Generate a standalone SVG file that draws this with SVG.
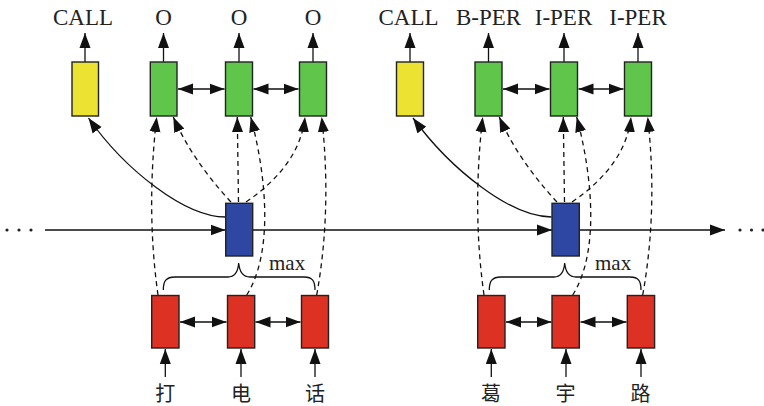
<svg xmlns="http://www.w3.org/2000/svg" width="764" height="406" viewBox="0 0 764 406">
<defs>
<marker id="ah" markerUnits="userSpaceOnUse" markerWidth="16" markerHeight="12" refX="15" refY="6" orient="auto-start-reverse"><path d="M0,0.5 L15,6 L0,11.5 z" fill="#111"/></marker>
<style>
.box{stroke:#222;stroke-width:1.4}
.y{fill:#ECE232}.g{fill:#5FC54B}.b{fill:#2E47A2}.r{fill:#DD3124}
.ln{fill:none;stroke:#111;stroke-width:1.3}
.ar{marker-end:url(#ah)}
.bi{marker-start:url(#ah);marker-end:url(#ah)}
.ds{stroke-dasharray:5,4}
.lab{font-family:"Liberation Serif","Times New Roman",serif;font-size:23px;fill:#222;text-anchor:middle}
.mx{font-family:"Liberation Serif","Times New Roman",serif;font-size:21px;fill:#222}
.ch{font-family:"Noto Sans CJK SC",sans-serif;font-size:20px;fill:#222;text-anchor:middle}
</style>
</defs>
<g id="connectors">
<path class="ln ar" d="M85 62 L85 33"/>
<path class="ln ar" d="M163.5 62 L163.5 33"/>
<path class="ln ar" d="M239 62 L239 33"/>
<path class="ln ar" d="M313 62 L313 33"/>
<path class="ln bi" d="M178 89 L224.5 89"/>
<path class="ln bi" d="M253.5 89 L298.5 89"/>
<path class="ln bi" d="M180 322 L226.5 322"/>
<path class="ln bi" d="M255.5 322 L300.5 322"/>
<path class="ln ar" d="M165.3 377 L165.3 349"/>
<path class="ln ar" d="M241 377 L241 349"/>
<path class="ln ar" d="M315 377 L315 349"/>
<path class="ln ar" d="M225.5 217 C185 217 125 170 88.5 118"/>
<path class="ln ds ar" d="M158 295 Q146 210 156.7 117"/>
<path class="ln ds ar" d="M231 202 Q192 160 173.3 117"/>
<path class="ln ds ar" d="M238.5 202 L237.3 117"/>
<path class="ln ds ar" d="M246.7 295 C275 250 265 170 250.7 117"/>
<path class="ln ds ar" d="M246 202 Q300 165 305 117"/>
<path class="ln ds ar" d="M316.7 295 Q332 210 321.7 117"/>
<path class="ln" d="M163.3 290 C163.3 281 166 277 175 277 L228 277 C235 277 238 272 238.7 263 C239.5 272 242.5 277 250 277 L304 277 C312.5 277 315 281 315 290"/>
<path class="ln ar" d="M410 62 L410 33"/>
<path class="ln ar" d="M488.5 62 L488.5 33"/>
<path class="ln ar" d="M564 62 L564 33"/>
<path class="ln ar" d="M638 62 L638 33"/>
<path class="ln bi" d="M503 89 L549.5 89"/>
<path class="ln bi" d="M578.5 89 L623.5 89"/>
<path class="ln bi" d="M506 322 L551.5 322"/>
<path class="ln bi" d="M580.5 322 L626.5 322"/>
<path class="ln ar" d="M491.3 377 L491.3 349"/>
<path class="ln ar" d="M566 377 L566 349"/>
<path class="ln ar" d="M641 377 L641 349"/>
<path class="ln ar" d="M551.5 217 C511 217 451 170 413 118"/>
<path class="ln ds ar" d="M484 295 Q472 210 482.7 117"/>
<path class="ln ds ar" d="M557 202 Q518 160 499.3 117"/>
<path class="ln ds ar" d="M564.5 202 L563.3 117"/>
<path class="ln ds ar" d="M572.7 295 C601 250 591 170 576.7 117"/>
<path class="ln ds ar" d="M572 202 Q626 165 631 117"/>
<path class="ln ds ar" d="M642.7 295 Q658 210 647.7 117"/>
<path class="ln" d="M489.3 290 C489.3 281 492 277 501 277 L554 277 C561 277 564 272 564.7 263 C565.5 272 568.5 277 576 277 L630 277 C638.5 277 641 281 641 290"/>
<path class="ln ar" d="M45 230 L225.5 230"/>
<path class="ln ar" d="M253 230 L552 230"/>
<path class="ln ar" d="M579.5 230 L725 230"/>
<circle cx="7" cy="230" r="1.6" fill="#222"/>
<circle cx="19" cy="230" r="1.6" fill="#222"/>
<circle cx="31" cy="230" r="1.6" fill="#222"/>
<circle cx="740" cy="230" r="1.6" fill="#222"/>
<circle cx="751.5" cy="230" r="1.6" fill="#222"/>
<circle cx="763" cy="230" r="1.6" fill="#222"/>
</g>
<g id="n-call1"><rect class="box y" x="72" y="62" width="26.5" height="54"/><text class="lab" x="83" y="25">CALL</text></g>
<g id="n-o1"><rect class="box g" x="150.3" y="62" width="26.7" height="54"/><text class="lab" x="163.5" y="25">O</text></g>
<g id="n-o2"><rect class="box g" x="225.5" y="62" width="27" height="54"/><text class="lab" x="239" y="25">O</text></g>
<g id="n-o3"><rect class="box g" x="299.5" y="62" width="27" height="54"/><text class="lab" x="313" y="25">O</text></g>
<g id="n-blue1"><rect class="box b" x="225.7" y="203.3" width="27" height="52.7"/></g>
<g id="n-r1"><rect class="box r" x="151.7" y="295.5" width="27.3" height="52.5"/><text class="ch" x="165.3" y="401">打</text></g>
<g id="n-r2"><rect class="box r" x="227.5" y="295.5" width="27.2" height="52.5"/><text class="ch" x="241" y="401">电</text></g>
<g id="n-r3"><rect class="box r" x="301.5" y="295.5" width="27" height="52.5"/><text class="ch" x="315" y="401">话</text></g>
<g id="n-max1"><text class="mx" x="269" y="270">max</text></g>
<g id="n-call2"><rect class="box y" x="396.5" y="62" width="27" height="54"/><text class="lab" x="408.5" y="25">CALL</text></g>
<g id="n-bper"><rect class="box g" x="475" y="62" width="27" height="54"/><text class="lab" x="488.5" y="25">B-PER</text></g>
<g id="n-iper1"><rect class="box g" x="550.5" y="62" width="27" height="54"/><text class="lab" x="563.5" y="25">I-PER</text></g>
<g id="n-iper2"><rect class="box g" x="624.5" y="62" width="27" height="54"/><text class="lab" x="638" y="25">I-PER</text></g>
<g id="n-blue2"><rect class="box b" x="552" y="203.3" width="27.3" height="52.7"/></g>
<g id="n-r4"><rect class="box r" x="477.7" y="295.5" width="27.3" height="52.5"/><text class="ch" x="491" y="401">葛</text></g>
<g id="n-r5"><rect class="box r" x="552" y="295.5" width="27.3" height="52.5"/><text class="ch" x="565.5" y="401">宇</text></g>
<g id="n-r6"><rect class="box r" x="627.3" y="295.5" width="27.3" height="52.5"/><text class="ch" x="640.5" y="401">路</text></g>
<g id="n-max2"><text class="mx" x="595" y="270">max</text></g>
</svg>
